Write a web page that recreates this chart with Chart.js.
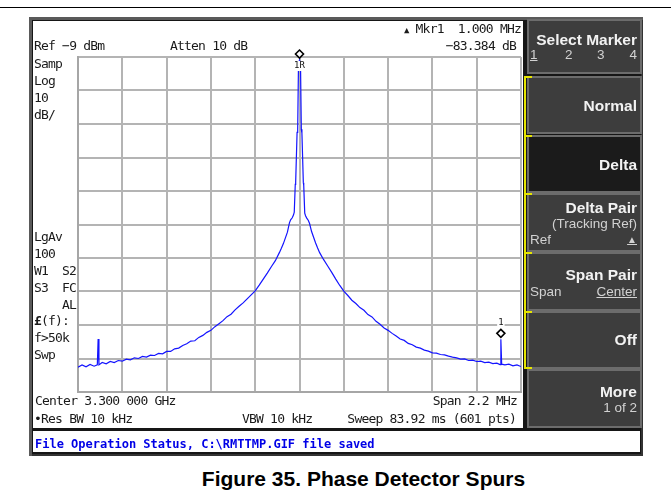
<!DOCTYPE html>
<html>
<head>
<meta charset="utf-8">
<title>Phase Detector Spurs</title>
<script src="https://cdn.jsdelivr.net/npm/chart.js@4.4.0/dist/chart.umd.min.js"></script>
<style>
  html, body { margin:0; padding:0; background:#fff; }
  body { width:671px; height:502px; position:relative; overflow:hidden; }
  .rule { position:absolute; left:0; top:7px; width:671px; height:1px; background:#000; }
  .frame { position:absolute; left:29px; top:17px; width:614px; height:439px; background:#161616;
           box-shadow: inset 3px 3px 0 #5a5a5a, inset -2px -2px 0 #333; }
  .screen { position:absolute; left:33px; top:21px; width:490px; height:407px; background:#fff; }
  #plotBox { position:absolute; left:68px; top:44px; width:455px; height:352px; }
  .ann { position:absolute; font-family:"DejaVu Sans Mono", monospace; font-size:13px; line-height:13px;
         letter-spacing:-0.8px; color:#1a1a1a; white-space:pre; }
  .key { position:absolute; left:527px; width:111px; background:#3d3d3d; border:2px solid #6c6c6c; }
  .key.on { background:#1b1b1b; }
  .kt { position:absolute; right:34px; font:bold 15.5px "Liberation Sans", Arial, sans-serif; line-height:15.5px;
        color:#f2f2f2; white-space:pre; }
  .ks { position:absolute; font:13.5px "Liberation Sans", Arial, sans-serif; line-height:14px; color:#d2d2d2; white-space:pre; }
  .u { text-decoration:underline; }
  .yel { position:absolute; background:#e6e600; }
  .status { position:absolute; left:33px; top:431px; width:607px; height:21px; background:#fff; }
  .stxt { position:absolute; left:35px; top:438px; font:bold 12px "DejaVu Sans Mono", monospace; line-height:12px;
          color:#0000e6; white-space:pre; }
  .caption { position:absolute; left:0; width:727px; top:467px; text-align:center;
             font:bold 21px "Liberation Sans", Arial, sans-serif; line-height:24px; color:#000; }
</style>
</head>
<body>
<div class="rule"></div>
<div class="frame"></div>
<div class="screen"></div>
<div id="plotBox"><canvas id="trace" width="455" height="352"></canvas></div>

<!-- screen annotations -->
<div class="ann" style="left:34px;top:39px">Ref −9 dBm</div>
<div class="ann" style="left:170px;top:39px">Atten 10 dB</div>
<div class="ann" style="right:150px;top:22px"><span style="font-size:9px">▲</span> Mkr1  1.000 MHz</div>
<div class="ann" style="right:155px;top:39px">−83.384 dB</div>
<div class="ann" style="left:34px;top:57px">Samp</div>
<div class="ann" style="left:34px;top:74px">Log</div>
<div class="ann" style="left:34px;top:91px">10</div>
<div class="ann" style="left:34px;top:108px">dB/</div>
<div class="ann" style="left:34px;top:230px">LgAv</div>
<div class="ann" style="left:34px;top:247px">100</div>
<div class="ann" style="left:34px;top:264px">W1</div>
<div class="ann" style="right:595px;top:264px">S2</div>
<div class="ann" style="left:34px;top:281px">S3</div>
<div class="ann" style="right:595px;top:281px">FC</div>
<div class="ann" style="right:595px;top:298px">AL</div>
<div class="ann" style="left:34px;top:314px"><b>£</b>(f):</div>
<div class="ann" style="left:34px;top:331px">f&gt;50k</div>
<div class="ann" style="left:34px;top:348px">Swp</div>
<div class="ann" style="left:35px;top:394px">Center 3.300 000 GHz</div>
<div class="ann" style="right:154px;top:394px">Span 2.2 MHz</div>
<div class="ann" style="left:34px;top:412px">•Res BW 10 kHz</div>
<div class="ann" style="left:242px;top:412px">VBW 10 kHz</div>
<div class="ann" style="right:155px;top:412px">Sweep 83.92 ms (601 pts)</div>

<!-- softkey menu -->
<div class="key" style="top:19px;height:51px"></div>
<div class="key" style="top:76px;height:54px"></div>
<div class="key on" style="top:135px;height:54px"></div>
<div class="key" style="top:193px;height:55px"></div>
<div class="key" style="top:252px;height:55px"></div>
<div class="key" style="top:311px;height:54px"></div>
<div class="key" style="top:369px;height:55px"></div>

<div class="yel" style="left:524px;top:76px;width:2px;height:293px"></div>
<div class="yel" style="left:524px;top:76px;width:8px;height:2px"></div>
<div class="yel" style="left:524px;top:135px;width:8px;height:2px"></div>
<div class="yel" style="left:524px;top:193px;width:8px;height:2px"></div>
<div class="yel" style="left:524px;top:252px;width:8px;height:2px"></div>
<div class="yel" style="left:524px;top:311px;width:8px;height:2px"></div>
<div class="yel" style="left:524px;top:367px;width:8px;height:2px"></div>

<div class="kt" style="top:32px">Select Marker</div>
<div class="ks u" style="left:530px;top:48px">1</div>
<div class="ks" style="left:565px;top:48px">2</div>
<div class="ks" style="left:597px;top:48px">3</div>
<div class="ks" style="right:34px;top:48px">4</div>
<div class="kt" style="top:98px">Normal</div>
<div class="kt" style="top:157px">Delta</div>
<div class="kt" style="top:200px">Delta Pair</div>
<div class="ks" style="right:34px;top:217px">(Tracking Ref)</div>
<div class="ks" style="left:530px;top:233px">Ref</div>
<div class="ks u" style="right:34px;top:233px;font-size:10px">▲</div>
<div class="kt" style="top:267px">Span Pair</div>
<div class="ks" style="left:530px;top:285px">Span</div>
<div class="ks u" style="right:34px;top:285px">Center</div>
<div class="kt" style="top:332px">Off</div>
<div class="kt" style="top:384px">More</div>
<div class="ks" style="right:34px;top:401px">1 of 2</div>

<div class="status"></div>
<div class="stxt">File Operation Status, C:\RMTTMP.GIF file saved</div>

<div class="caption">Figure 35. Phase Detector Spurs</div>

<script>
// Sweep settings: centre 3.300 000 GHz, span 2.2 MHz, ref -9 dBm, 10 dB/div
const FREQ_GRID_MHZ = [-1.1, -0.88, -0.66, -0.44, -0.22, 0, 0.22, 0.44, 0.66, 0.88, 1.1];
const LEVEL_GRID_DBM = [-109, -99, -89, -79, -69, -59, -49, -39, -29, -19, -9];

// Trace: offset from centre (kHz) and level (dBm)
const TRACE_KHZ = [
  -1100, -1080, -1060, -1040, -1020, -1004, -1000, -996, -980, -960,
  -940, -920, -900, -880, -860, -840, -820, -800, -780, -760,
  -740, -720, -700, -680, -660, -640, -620, -600, -580, -560,
  -540, -520, -500, -480, -460, -440, -420, -400, -380, -360,
  -340, -320, -300, -280, -260, -240, -220, -200, -180, -160,
  -140, -120, -100, -90, -80, -70, -60, -50, -44, -36,
  -30, -26, -21, -19, -12, -9, -5, 0,
  5, 9, 12, 19, 21, 26, 30, 36, 44, 50,
  60, 70, 80, 90, 100, 120, 140, 160, 180, 200,
  220, 240, 260, 280, 300, 320, 340, 360, 380, 400,
  420, 440, 460, 480, 500, 520, 540, 560, 580, 600,
  620, 640, 660, 680, 700, 720, 740, 760, 780, 800,
  820, 840, 860, 880, 900, 920, 940, 960, 980, 996,
  1000, 1004, 1020, 1040, 1060, 1080, 1100
];
const TRACE_DBM = [
  -101.6, -100.9, -101.5, -100.8, -101.3, -100.9, -93.2, -100.9, -100.2, -100.6,
  -99.9, -100.2, -99.6, -99.8, -99.2, -99.4, -98.8, -99.0, -98.4, -98.6,
  -98.0, -98.1, -97.5, -97.6, -96.9, -96.9, -96.1, -95.9, -95.1, -94.6,
  -93.8, -93.7, -92.7, -92.1, -91.2, -90.6, -89.5, -88.6, -87.7, -86.5,
  -85.8, -84.5, -83.4, -82.4, -81.2, -80.0, -78.8, -77.1, -75.3, -73.5,
  -71.6, -69.8, -67.4, -66.1, -64.7, -63.0, -61.3, -58.5, -57.6, -57.0,
  -56.2, -55.3, -47.0, -46.3, -31.5, -30.8, -11.0, -9.9,
  -11.2, -30.6, -31.7, -46.5, -47.3, -55.6, -56.4, -57.1, -57.8, -58.7,
  -61.1, -62.8, -64.5, -66.0, -67.4, -69.5, -71.4, -73.3, -75.3, -77.2,
  -78.9, -80.2, -81.6, -82.6, -83.8, -84.6, -85.9, -86.6, -87.9, -88.8,
  -89.9, -90.6, -91.5, -92.3, -93.2, -93.6, -94.5, -94.9, -95.6, -95.9,
  -96.5, -96.8, -97.3, -97.4, -97.8, -97.9, -98.3, -98.6, -98.8, -99.2,
  -99.1, -99.6, -99.5, -99.9, -99.8, -100.2, -100.1, -100.5, -100.4, -100.8,
  -93.284, -100.7, -100.9, -100.7, -101.2, -100.9, -101.4
];

// Markers: 1R is the reference on the carrier, 1 is the delta marker (+1.000 MHz, -83.384 dB)
const MARKER_TEXT = ['1R', '1'];
const MARKER_KHZ = [0, 1000];
const MARKER_DBM = [-9.9, -9.9 - 83.384];

const markerPlugin = {
  id: 'markers',
  afterDatasetsDraw(chart) {
    const { ctx, chartArea, scales: { x, y } } = chart;
    ctx.save();
    MARKER_KHZ.forEach((k, i) => {
      const px = x.getPixelForValue(k / 1000);
      const py = y.getPixelForValue(MARKER_DBM[i]) - 6;
      // near the top of the graticule the number goes under the diamond
      const ly = py < chartArea.top + 10 ? py + 12 : py - 11;
      ctx.font = '9px "DejaVu Sans Mono"';
      ctx.textAlign = 'center';
      ctx.textBaseline = 'middle';
      const w = ctx.measureText(MARKER_TEXT[i]).width;
      ctx.fillStyle = '#fff';
      ctx.fillRect(px - w / 2 - 1, ly - 5, w + 2, 10);
      ctx.fillStyle = '#111';
      ctx.fillText(MARKER_TEXT[i], px, ly);

      ctx.beginPath();
      ctx.moveTo(px, py - 4);
      ctx.lineTo(px + 4, py);
      ctx.lineTo(px, py + 4);
      ctx.lineTo(px - 4, py);
      ctx.closePath();
      ctx.fillStyle = '#fff';
      ctx.fill();
      ctx.lineWidth = 1.6;
      ctx.strokeStyle = '#000';
      ctx.stroke();
    });
    ctx.restore();
  }
};

const gridOpts = { color: '#b4b4b4', lineWidth: 2, drawTicks: false };
const borderOpts = { display: true, color: '#a6a6a6', width: 2 };

new Chart(document.getElementById('trace'), {
  type: 'line',
  data: {
    datasets: [{
      data: TRACE_KHZ.map((k, i) => ({ x: k / 1000, y: TRACE_DBM[i] })),
      borderColor: '#1414ff',
      borderWidth: 1.2,
      pointRadius: 0,
      tension: 0,
      fill: false
    }]
  },
  options: {
    responsive: false,
    animation: false,
    events: [],
    layout: { padding: { left: 10, top: 13, right: 2, bottom: 4 } },
    plugins: { legend: { display: false }, tooltip: { enabled: false } },
    scales: {
      x: {
        type: 'linear', min: -1.1, max: 1.1,
        ticks: { display: false },
        afterBuildTicks: ax => { ax.ticks = FREQ_GRID_MHZ.map(v => ({ value: v })); },
        grid: gridOpts, border: borderOpts
      },
      y: {
        type: 'linear', min: -109, max: -9,
        ticks: { display: false },
        afterBuildTicks: ax => { ax.ticks = LEVEL_GRID_DBM.map(v => ({ value: v })); },
        grid: gridOpts, border: borderOpts
      }
    }
  },
  plugins: [markerPlugin]
});
</script>
</body>
</html>
